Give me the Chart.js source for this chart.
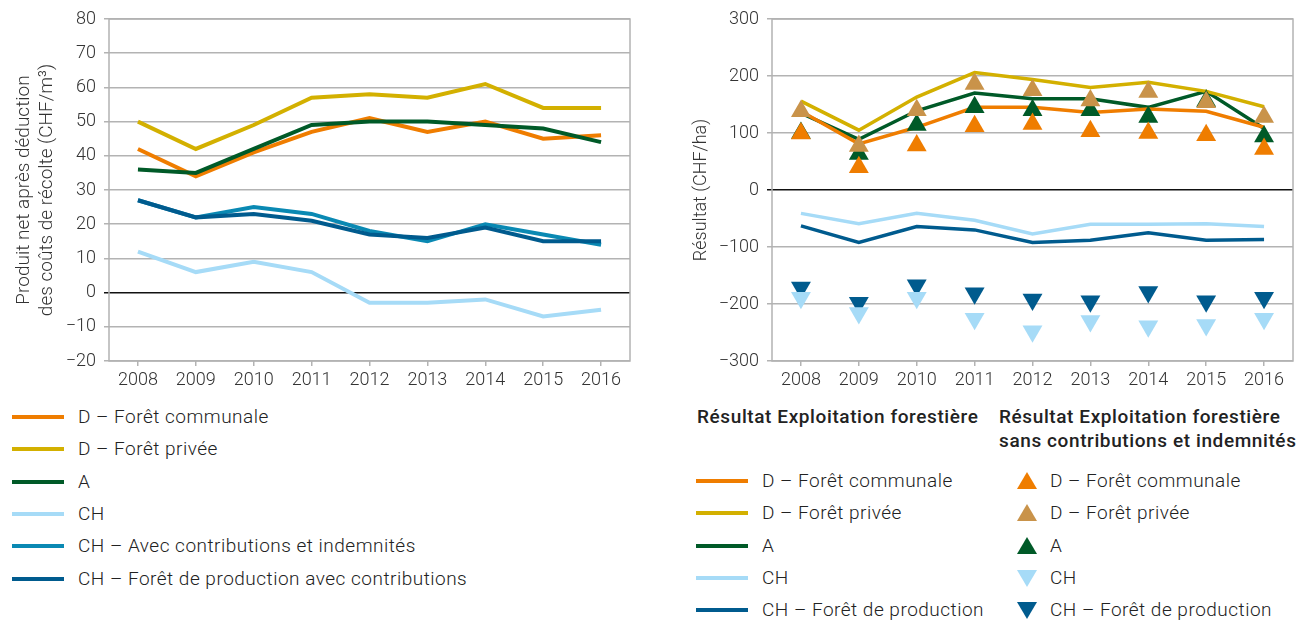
<!DOCTYPE html>
<html>
<head>
<meta charset="utf-8">
<script src="https://cdn.jsdelivr.net/npm/chart.js@4"></script>
<style>
  body { margin: 0; background: #fff; font-family: Roboto, sans-serif; color: #222; }
  #wrap { position: relative; width: 1305px; height: 620px; }
  .box { position: absolute; }
  .leg { position: absolute; font-size: 19px; font-weight: 300; letter-spacing: 0.5px; }
  .row { position: absolute; white-space: nowrap; height: 22px; line-height: 22px; }
  .ln { position: absolute; top: 9px; height: 4px; }
  .tri { position: absolute; width: 0; height: 0; border-left: 10px solid transparent; border-right: 10px solid transparent; }
  .head { position: absolute; font-size: 19px; font-weight: 500; line-height: 24px; white-space: nowrap; letter-spacing: 0.6px; }
</style>
</head>
<body>
<div id="wrap">
  <div class="box" style="left:0;top:0;width:650px;height:395px;"><canvas id="c1"></canvas></div>
  <div class="box" style="left:680px;top:0;width:625px;height:395px;"><canvas id="c2"></canvas></div>
  <div id="leg1" class="leg" style="left:0;top:0;"></div>
  <div id="leg2" class="leg" style="left:0;top:0;"></div>
  <div class="head" style="left:697px;top:405px;">Résultat Exploitation forestière</div>
  <div class="head" style="left:999px;top:405px;">Résultat Exploitation forestière<br>sans contributions et indemnités</div>
</div>
<script>
const years = ['2008', '2009', '2010', '2011', '2012', '2013', '2014', '2015', '2016'];

// left chart: Produit net (CHF/m3)
const leftLabels = ['D – Forêt communale', 'D – Forêt privée', 'A', 'CH', 'CH – Avec contributions et indemnités', 'CH – Forêt de production avec contributions'];
const leftColors = ['#ef7d00', '#d3b000', '#005a28', '#a6dbf7', '#0a89b3', '#005b8e'];
const dCommunal = [42, 34, 41, 47, 51, 47, 50, 45, 46];
const dPrivee = [50, 42, 49, 57, 58, 57, 61, 54, 54];
const aut = [36, 35, 42, 49, 50, 50, 49, 48, 44];
const ch = [12, 6, 9, 6, -3, -3, -2, -7, -5];
const chAvec = [27, 22, 25, 23, 18, 15, 20, 17, 14];
const chProdAvec = [27, 22, 23, 21, 17, 16, 19, 15, 15];
const leftSeries = [dCommunal, dPrivee, aut, ch, chAvec, chProdAvec];
const leftTicks = { min: -20, max: 80, step: 10 };

// right chart: Résultat (CHF/ha)
const rightLabels = ['D – Forêt communale', 'D – Forêt privée', 'A', 'CH', 'CH – Forêt de production'];
const lineColors = ['#ef7d00', '#d3b000', '#005a28', '#a6dbf7', '#005b8e'];
const markColors = ['#ef7d00', '#c9934a', '#005a28', '#a6dbf7', '#005b8e'];
const resCommunal = [138, 81, 110, 145, 145, 136, 142, 138, 110];
const resPrivee = [156, 105, 163, 206, 194, 180, 189, 173, 146];
const resA = [135, 89, 139, 170, 160, 160, 145, 173, 108];
const resCH = [-41, -59, -41, -53, -77, -60, -60, -59, -64];
const resCHProd = [-63, -92, -64, -70, -92, -88, -75, -88, -87];
// sans contributions et indemnités (triangles)
const sansCommunal = [99, 40, 78, 112, 116, 103, 100, 96, 72];
const sansPrivee = [138, 77, 140, 186, 175, 157, 172, 154, 128];
const sansA = [100, 63, 114, 145, 140, 140, 128, 156, 94];
const sansCH = [-189, -216, -189, -226, -248, -230, -239, -237, -226];
const sansCHProd = [-171, -198, -167, -181, -192, -195, -179, -195, -189];
const rightLines = [resCommunal, resPrivee, resA, resCH, resCHProd];
const rightMarks = [sansCommunal, sansPrivee, sansA, sansCH, sansCHProd];
const rightTicks = { min: -300, max: 300, step: 100 };

const tickFont = { family: 'Roboto', size: 18, weight: 300 };
const gridGrey = '#b3b3b3';

const frame = {
  id: 'frame',
  afterDraw(chart) {
    const a = chart.chartArea, ctx = chart.ctx;
    ctx.save();
    ctx.strokeStyle = gridGrey;
    ctx.lineWidth = 1.5;
    ctx.strokeRect(a.left, a.top, a.right - a.left, a.bottom - a.top);
    ctx.restore();
  }
};

function scales(t, yTitle, titleSize, titlePad, yWidth) {
  return {
    x: {
      offset: true,
      grid: { display: true, drawOnChartArea: false, drawTicks: true, tickLength: 5, offset: false, color: gridGrey, lineWidth: 1.5 },
      border: { display: false },
      ticks: { color: '#333', font: tickFont, padding: 4, maxRotation: 0 },
      afterFit(s) { s.height = 34; }
    },
    y: {
      min: t.min, max: t.max,
      ticks: { stepSize: t.step, color: '#333', font: tickFont, padding: 8,
        callback: v => (v < 0 ? '\u2212' + Math.abs(v) : String(v)) },
      grid: { color: c => (c.tick && c.tick.value === 0 ? '#111' : gridGrey), lineWidth: 1.5, tickLength: 5 },
      border: { display: false },
      title: { display: true, text: yTitle, color: '#333', font: { family: 'Roboto', size: titleSize, weight: 300, lineHeight: 1.2 }, padding: { top: titlePad, bottom: 0 } },
      afterFit(s) { s.width = yWidth; }
    }
  };
}

const baseOpts = {
  responsive: true,
  maintainAspectRatio: false,
  animation: false,
  plugins: { legend: { display: false }, tooltip: { enabled: false } }
};

new Chart(document.getElementById('c1'), {
  type: 'line',
  data: {
    labels: years,
    datasets: leftSeries.map((d, i) => ({
      label: leftLabels[i], data: d, borderColor: leftColors[i], borderWidth: 4,
      pointRadius: 0, tension: 0, fill: false
    })).reverse()
  },
  options: Object.assign({}, baseOpts, {
    layout: { padding: { top: 19, right: 20, left: 0, bottom: 0 } },
    scales: scales(leftTicks, ['Produit net après déduction', 'des coûts de récolte (CHF/m³)'], 19, 13, 109)
  }),
  plugins: [frame]
});

const rightSets = [];
rightMarks.forEach((d, i) => {
  rightSets.push({
    label: rightLabels[i], data: d, showLine: false, pointStyle: 'triangle',
    pointRotation: i >= 3 ? 180 : 0, pointRadius: 11.5, pointBackgroundColor: markColors[i],
    pointBorderColor: markColors[i], pointBorderWidth: 0, borderColor: markColors[i], order: 1
  });
});
rightLines.forEach((d, i) => {
  rightSets.push({
    label: rightLabels[i], data: d, borderColor: lineColors[i], borderWidth: 3.5,
    pointRadius: 0, tension: 0, fill: false, order: 2
  });
});

new Chart(document.getElementById('c2'), {
  type: 'line',
  data: { labels: years, datasets: rightSets },
  options: Object.assign({}, baseOpts, {
    layout: { padding: { top: 19, right: 12, left: 0, bottom: 0 } },
    scales: scales(rightTicks, 'Résultat (CHF/ha)', 18, 11, 92)
  }),
  plugins: [frame]
});

// html legends
const leg1 = document.getElementById('leg1');
leftLabels.forEach((l, i) => {
  const r = document.createElement('div');
  r.className = 'row';
  r.style.left = '0px';
  r.style.top = (406 + i * 32.3) + 'px';
  r.innerHTML = '<span class="ln" style="left:12px;width:52px;background:' + leftColors[i] + '"></span>' +
    '<span style="position:absolute;left:78px;">' + l + '</span>';
  leg1.appendChild(r);
});
const leg2 = document.getElementById('leg2');
rightLabels.forEach((l, i) => {
  const top = 470 + i * 32.3;
  const r = document.createElement('div');
  r.className = 'row';
  r.style.left = '0px';
  r.style.top = top + 'px';
  const tri = i >= 3
    ? 'border-top:17px solid ' + markColors[i] + ';top:3px;'
    : 'border-bottom:17px solid ' + markColors[i] + ';top:2px;';
  r.innerHTML = '<span class="ln" style="left:696px;width:52px;background:' + lineColors[i] + '"></span>' +
    '<span style="position:absolute;left:762px;">' + l + '</span>' +
    '<span class="tri" style="left:1017px;' + tri + '"></span>' +
    '<span style="position:absolute;left:1050px;">' + l + '</span>';
  leg2.appendChild(r);
});
</script>
</body>
</html>
